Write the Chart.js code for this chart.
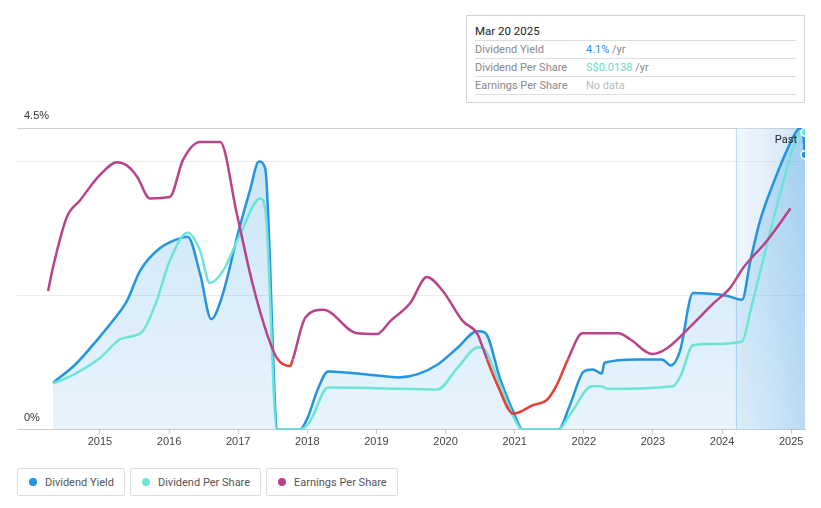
<!DOCTYPE html>
<html>
<head>
<meta charset="utf-8">
<script src="https://cdn.jsdelivr.net/npm/chart.js@4.4.1/dist/chart.umd.min.js"></script>
<style>
  body { margin: 0; width: 821px; height: 508px; background: #fff; font-family: Roboto, "Noto Sans", sans-serif; position: relative; overflow: hidden; }
  #wrap { position: absolute; left: 0; top: 0; width: 821px; height: 460px; }
  #tip { position: absolute; left: 466px; top: 15px; width: 339px; height: 88px; border: 1px solid #d4d4d4; background: #fff; box-sizing: border-box; padding: 6px 8px 0 8px; font-size: 11px; }
  #tip .title { color: #222; font-size: 11.5px; height: 18px; line-height: 18px; border-bottom: 1px solid #ddd; }
  #tip .row { height: 17px; line-height: 17px; border-bottom: 1px solid #ddd; color: #888; display: flex; }
  #tip .row span.k { width: 111px; }
  #tip .row span.v { color: #888; }
  #legend { position: absolute; left: 17px; top: 468px; display: flex; }
  #legend .item { border: 1px solid #ddd; border-radius: 2px; height: 28px; box-sizing: border-box; padding: 0 10px 0 11px; margin-right: 5px; display: flex; align-items: center; font-size: 11px; color: #555; white-space: nowrap; }
  #legend .dot { width: 8px; height: 8px; border-radius: 50%; margin-right: 8px; }
</style>
</head>
<body>
<div id="wrap"><canvas id="myChart"></canvas></div>
<div id="tip">
  <div class="title">Mar 20 2025</div>
  <div class="row"><span class="k">Dividend Yield</span><span class="v"><span style="color:#1f8fe0">4.1%</span> /yr</span></div>
  <div class="row"><span class="k">Dividend Per Share</span><span class="v"><span style="color:#5fe0cc">S$0.0138</span> /yr</span></div>
  <div class="row"><span class="k">Earnings Per Share</span><span class="v" style="color:#bbb">No data</span></div>
</div>
<div id="legend">
  <div class="item"><span class="dot" style="background:#2394df"></span>Dividend Yield</div>
  <div class="item"><span class="dot" style="background:#6ce5d5"></span>Dividend Per Share</div>
  <div class="item"><span class="dot" style="background:#b8438a"></span>Earnings Per Share</div>
</div>
<script>
const xTicks = [2015, 2016, 2017, 2018, 2019, 2020, 2021, 2022, 2023, 2024, 2025];
const pastStart = 2024.2;

// dividend yield (%)
const yieldYears = [2014.32, 2014.64, 2015.0, 2015.22, 2015.39, 2015.58, 2015.87, 2016.2, 2016.27, 2016.45, 2016.61, 2016.77, 2017.0, 2017.17, 2017.3, 2017.39, 2017.57,
  2017.89, 2018.0, 2018.15, 2018.3, 2019.01, 2019.31, 2019.6, 2019.88, 2020.17, 2020.46, 2020.57, 2020.79, 2020.98, 2021.12,
  2021.63, 2021.8, 2022.0, 2022.13, 2022.26, 2022.3, 2022.77, 2023.13, 2023.26, 2023.39, 2023.58, 2024.07, 2024.29, 2024.41, 2024.55, 2024.74, 2024.94, 2025.09, 2025.16, 2025.2];
const yieldValues = [0.70, 0.97, 1.39, 1.67, 1.92, 2.37, 2.71, 2.87, 2.88, 2.32, 1.65, 2.0, 2.94, 3.57, 4.0, 3.9, 0,
  0, 0.17, 0.6, 0.87, 0.81, 0.78, 0.83, 0.97, 1.22, 1.47, 1.45, 0.76, 0.27, 0,
  0, 0.37, 0.87, 0.9, 0.84, 1.0, 1.05, 1.05, 0.96, 1.17, 2.04, 2.0, 1.94, 2.52, 3.12, 3.67, 4.17, 4.47, 4.5, 4.1];

// dividend per share (S$)
const dpsYears = [2014.32, 2014.61, 2015.0, 2015.29, 2015.48, 2015.62, 2015.82, 2016.01, 2016.27, 2016.45, 2016.59, 2016.78, 2017.03, 2017.32, 2017.4, 2017.56,
  2017.89, 2018.04, 2018.3, 2019.01, 2019.88, 2020.17, 2020.47, 2020.57, 2020.75, 2021.03, 2021.12,
  2021.63, 2021.8, 2022.12, 2022.26, 2022.34, 2023.29, 2023.4, 2023.58, 2023.83, 2024.29, 2024.41, 2024.65, 2024.84, 2025.03, 2025.13, 2025.2];
const dpsValues = [0.00215, 0.00255, 0.00333, 0.0042, 0.00435, 0.00457, 0.00597, 0.00784, 0.00914, 0.0083, 0.00681, 0.00737, 0.00908, 0.01073, 0.0100, 0,
  0, 0.0004, 0.00196, 0.00193, 0.00187, 0.00286, 0.00383, 0.0037, 0.0024, 0.0003, 0,
  0, 0.0007, 0.00202, 0.00202, 0.0019, 0.00202, 0.0025, 0.00392, 0.00398, 0.0041, 0.0055, 0.00861, 0.01095, 0.01309, 0.0138, 0.0138];

// earnings per share (relative scale)
const epsYears = [2014.25, 2014.32, 2014.52, 2014.71, 2015.0, 2015.25, 2015.39, 2015.54, 2015.72, 2016.01, 2016.2, 2016.45, 2016.74, 2016.98, 2017.21, 2017.42, 2017.56, 2017.75, 2017.79,
  2017.97, 2018.23, 2018.72, 2019.01, 2019.2, 2019.49, 2019.73, 2019.96, 2020.25, 2020.46, 2020.54, 2020.6, 2020.75, 2020.98, 2021.27, 2021.47, 2021.61, 2021.77,
  2021.98, 2022.5, 2022.67, 2022.99, 2023.21, 2023.58, 2023.87, 2024.12, 2024.31, 2024.65, 2024.99];
const epsValues = [2.07, 2.42, 3.17, 3.42, 3.8, 3.99, 3.94, 3.77, 3.45, 3.47, 4.02, 4.29, 4.29, 3.22, 2.17, 1.42, 1.07, 0.95, 1.05,
  1.67, 1.79, 1.44, 1.43, 1.62, 1.89, 2.28, 2.07, 1.62, 1.43, 1.22, 1.05, 0.67, 0.24, 0.37, 0.45, 0.67, 1.05,
  1.44, 1.44, 1.35, 1.13, 1.22, 1.58, 1.88, 2.12, 2.42, 2.82, 3.3];
const epsLow = 1.1;

const toPoints = (xs, ys) => xs.map((x, i) => ({ x, y: ys[i] }));
const lastOnly = (n, r) => (ctx) => (ctx.dataIndex === n - 1 ? r : 0);

const pastPlugin = {
  id: "past",
  beforeDatasetsDraw(chart) {
    const { ctx, chartArea, scales } = chart;
    const x0 = scales.x.getPixelForValue(pastStart);
    const g = ctx.createLinearGradient(x0, 0, chartArea.right, 0);
    g.addColorStop(0, "rgba(215,232,248,0.35)");
    g.addColorStop(1, "rgba(140,192,235,0.45)");
    ctx.save();
    ctx.fillStyle = g;
    ctx.fillRect(x0, chartArea.top, chartArea.right - x0, chartArea.bottom - chartArea.top);
    ctx.strokeStyle = "rgba(180,210,235,0.9)";
    ctx.lineWidth = 1;
    ctx.beginPath();
    ctx.moveTo(x0 + 0.5, chartArea.top);
    ctx.lineTo(x0 + 0.5, chartArea.bottom);
    ctx.stroke();
    ctx.restore();
  },
  afterDraw(chart) {
    const { ctx, chartArea } = chart;
    ctx.save();
    ctx.font = "11px Roboto, sans-serif";
    ctx.fillStyle = "#222";
    ctx.textAlign = "right";
    ctx.textBaseline = "middle";
    ctx.fillText("Past", chartArea.right - 8, chartArea.top + 12);
    ctx.restore();
  },
};

new Chart(document.getElementById("myChart"), {
  type: "line",
  data: {
    datasets: [
      {
        label: "Dividend Yield",
        data: toPoints(yieldYears, yieldValues),
        borderColor: "#2394df",
        borderWidth: 2.5,
        yAxisID: "y",
        fill: "origin",
        backgroundColor: (context) => {
          const area = context.chart.chartArea;
          if (!area) return "rgba(35,148,223,0.15)";
          const g = context.chart.ctx.createLinearGradient(0, area.top, 0, area.bottom);
          g.addColorStop(0, "rgba(35,148,223,0.25)");
          g.addColorStop(1, "rgba(35,148,223,0.1)");
          return g;
        },
        pointRadius: lastOnly(yieldYears.length, 4),
        pointBackgroundColor: "#2394df",
        pointBorderColor: "#fff",
        pointBorderWidth: 1.5,
        cubicInterpolationMode: "monotone",
        order: 3,
      },
      {
        label: "Dividend Per Share",
        data: toPoints(dpsYears, dpsValues),
        borderColor: "#6ce5d5",
        borderWidth: 2.5,
        yAxisID: "yDps",
        fill: false,
        pointRadius: lastOnly(dpsYears.length, 4),
        pointBackgroundColor: "#6ce5d5",
        pointBorderColor: "#fff",
        pointBorderWidth: 1.5,
        cubicInterpolationMode: "monotone",
        order: 2,
      },
      {
        label: "Earnings Per Share",
        data: toPoints(epsYears, epsValues),
        borderColor: "#b8438a",
        borderWidth: 2.5,
        yAxisID: "yEps",
        fill: false,
        pointRadius: 0,
        cubicInterpolationMode: "monotone",
        segment: {
          borderColor: (s) => (s.p0.parsed.y < epsLow && s.p1.parsed.y < epsLow ? "#e5413b" : undefined),
        },
        order: 1,
      },
    ],
  },
  plugins: [pastPlugin],
  options: {
    responsive: true,
    maintainAspectRatio: false,
    animation: false,
    layout: { padding: { left: 17, right: 16, top: 128, bottom: 9 } },
    plugins: {
      legend: { display: false },
      tooltip: { enabled: false },
    },
    scales: {
      x: {
        type: "linear",
        min: 2013.8,
        max: 2025.2,
        afterBuildTicks: (axis) => {
          axis.ticks = xTicks.map((v) => ({ value: v }));
        },
        grid: { drawOnChartArea: false, drawTicks: true, tickLength: 4, color: "#ccc" },
        border: { color: "#ccc" },
        ticks: {
          color: "#444",
          font: { size: 11 },
          padding: 2,
          maxRotation: 0,
          callback: (v) => String(v),
        },
      },
      y: {
        min: 0,
        max: 4.5,
        afterBuildTicks: (axis) => {
          axis.ticks = [0, 2, 4, 4.5].map((v) => ({ value: v }));
        },
        afterFit: (axis) => {
          axis.width = 0;
        },
        grid: {
          drawTicks: false,
          color: (c) => (c.tick.value === 0 || c.tick.value === 4.5 ? "#d0d0d0" : "#ececec"),
        },
        border: { display: false },
        ticks: {
          mirror: true,
          padding: 7,
          labelOffset: -12,
          color: "#333",
          font: { size: 11 },
          callback: (v) => (v === 0 ? "0%" : v === 4.5 ? "4.5%" : ""),
        },
      },
      yDps: { display: false, min: 0, max: 0.014 },
      yEps: { display: false, min: 0, max: 4.5 },
    },
  },
});
</script>
</body>
</html>
